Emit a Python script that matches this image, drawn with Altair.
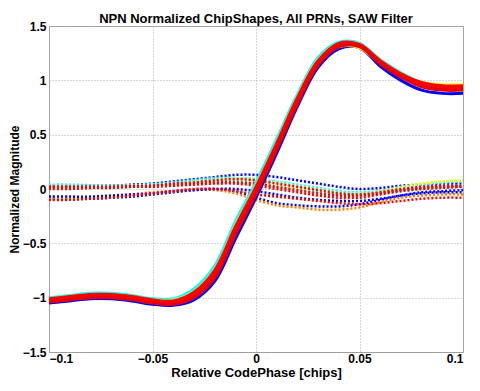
import altair as alt
import pandas as pd

x_vals = [-0.1, -0.09, -0.08, -0.07, -0.06, -0.05, -0.04, -0.03, -0.02, -0.01, 0.0,
          0.01, 0.02, 0.03, 0.04, 0.05, 0.06, 0.07, 0.08, 0.09, 0.1]

# Solid chip-shape curves (one per PRN group), drawn in this order
solid_blue   = [-1.05, -1.03, -1.01, -1.01, -1.03, -1.06, -1.07, -1.02, -0.85, -0.46, -0.08, 0.33, 0.76, 1.12, 1.29, 1.30, 1.13, 1.00, 0.91, 0.88, 0.88]
solid_cyan   = [-1.00, -0.98, -0.96, -0.96, -0.98, -1.01, -1.01, -0.92, -0.71, -0.30, 0.06, 0.46, 0.87, 1.21, 1.35, 1.34, 1.19, 1.07, 0.98, 0.94, 0.93]
solid_green  = [-1.01, -0.99, -0.97, -0.975, -0.99, -1.02, -1.02, -0.94, -0.74, -0.33, 0.03, 0.43, 0.85, 1.19, 1.34, 1.33, 1.18, 1.06, 0.97, 0.94, 0.94]
solid_yellow = [-1.02, -1.00, -0.98, -0.98, -1.00, -1.03, -1.03, -0.96, -0.76, -0.36, 0.01, 0.41, 0.83, 1.17, 1.31, 1.30, 1.16, 1.05, 0.98, 0.96, 0.96]
solid_orange = [-1.03, -1.01, -0.99, -0.99, -1.01, -1.04, -1.05, -0.98, -0.79, -0.39, -0.02, 0.38, 0.80, 1.15, 1.31, 1.31, 1.16, 1.04, 0.96, 0.93, 0.93]
solid_red1   = [-1.01, -0.99, -0.97, -0.97, -0.99, -1.02, -1.03, -0.95, -0.75, -0.35, 0.02, 0.42, 0.84, 1.18, 1.34, 1.33, 1.18, 1.06, 0.98, 0.95, 0.95]
solid_red2   = [-1.03, -1.01, -0.985, -0.99, -1.01, -1.04, -1.05, -0.98, -0.79, -0.39, -0.02, 0.38, 0.80, 1.15, 1.32, 1.32, 1.17, 1.05, 0.96, 0.93, 0.93]
solid_red3   = [-1.02, -1.00, -0.975, -0.98, -1.00, -1.03, -1.04, -0.96, -0.77, -0.37, 0.00, 0.40, 0.82, 1.17, 1.33, 1.32, 1.17, 1.05, 0.97, 0.94, 0.94]
solid_red4   = [-1.04, -1.02, -1.00, -1.00, -1.02, -1.05, -1.06, -1.00, -0.82, -0.42, -0.05, 0.36, 0.78, 1.14, 1.31, 1.31, 1.15, 1.03, 0.94, 0.91, 0.91]

# Dotted (quadrature) curves
dot_blue1   = [0.03, 0.03, 0.03, 0.03, 0.04, 0.05, 0.07, 0.09, 0.11, 0.13, 0.13, 0.11, 0.08, 0.05, 0.02, 0.00, 0.01, 0.03, 0.04, 0.05, 0.05]
dot_cyan    = [0.04, 0.04, 0.035, 0.03, 0.035, 0.04, 0.06, 0.08, 0.10, 0.10, 0.09, 0.07, 0.04, 0.01, -0.02, -0.03, -0.02, 0.01, 0.04, 0.06, 0.07]
dot_green   = [0.03, 0.03, 0.02, 0.02, 0.03, 0.04, 0.05, 0.07, 0.09, 0.10, 0.09, 0.06, 0.03, 0.00, -0.03, -0.04, -0.02, 0.02, 0.05, 0.07, 0.08]
dot_yellow  = [0.01, 0.01, 0.01, 0.02, 0.02, 0.03, 0.04, 0.06, 0.07, 0.08, 0.06, 0.03, 0.00, -0.03, -0.05, -0.06, -0.03, 0.01, 0.05, 0.07, 0.08]
dot_cyan2   = [0.01, 0.01, 0.01, 0.02, 0.03, 0.04, 0.05, 0.06, 0.07, 0.07, 0.05, 0.02, -0.01, -0.03, -0.04, -0.05, -0.04, -0.02, 0.00, 0.02, 0.03]
dot_blue2   = [-0.09, -0.09, -0.09, -0.08, -0.07, -0.05, -0.03, -0.01, 0.00, -0.02, -0.08, -0.13, -0.15, -0.16, -0.16, -0.14, -0.10, -0.06, -0.03, -0.02, -0.01]
dot_orange  = [-0.08, -0.08, -0.08, -0.07, -0.05, -0.03, -0.02, -0.01, -0.01, -0.04, -0.10, -0.15, -0.17, -0.19, -0.19, -0.17, -0.12, -0.08, -0.06, -0.05, -0.05]
dot_blue3   = [-0.07, -0.07, -0.07, -0.06, -0.05, -0.04, -0.02, -0.01, 0.00, 0.00, -0.02, -0.05, -0.08, -0.10, -0.11, -0.11, -0.09, -0.06, -0.04, -0.03, -0.03]
dot_red1    = [0.02, 0.02, 0.02, 0.02, 0.03, 0.03, 0.05, 0.06, 0.08, 0.09, 0.08, 0.05, 0.02, -0.01, -0.04, -0.05, -0.03, 0.00, 0.02, 0.03, 0.03]
dot_red2    = [0.00, 0.00, 0.01, 0.01, 0.02, 0.02, 0.03, 0.04, 0.05, 0.05, 0.03, 0.00, -0.03, -0.06, -0.08, -0.08, -0.05, -0.02, 0.00, 0.01, 0.02]
dot_red3    = [-0.10, -0.10, -0.09, -0.08, -0.06, -0.04, -0.02, 0.00, 0.00, -0.02, -0.05, -0.07, -0.09, -0.11, -0.13, -0.14, -0.13, -0.11, -0.09, -0.08, -0.08]
dot_red4    = [0.02, 0.02, 0.02, 0.02, 0.02, 0.03, 0.04, 0.05, 0.06, 0.06, 0.05, 0.02, -0.01, -0.04, -0.06, -0.06, -0.04, -0.01, 0.01, 0.02, 0.02]

solid_series = [
    ("s1", "#0000ff", solid_blue), ("s2", "#00ffff", solid_cyan),
    ("s3", "#80ff80", solid_green), ("s4", "#ffff00", solid_yellow),
    ("s5", "#ff8000", solid_orange), ("s6", "#ff0000", solid_red1),
    ("s7", "#f00000", solid_red2), ("s8", "#ff0000", solid_red3),
    ("s9", "#e80000", solid_red4),
]
dot_series = [
    ("d01", "#0000ff", dot_blue1), ("d02", "#00ffff", dot_cyan),
    ("d03", "#80ff80", dot_green), ("d04", "#ffff00", dot_yellow),
    ("d05", "#00ffff", dot_cyan2), ("d06", "#0000ff", dot_blue2),
    ("d07", "#ff8000", dot_orange), ("d08", "#0000ff", dot_blue3),
    ("d09", "#ff0000", dot_red1), ("d10", "#ff0000", dot_red2),
    ("d11", "#ff0000", dot_red3), ("d12", "#ff0000", dot_red4),
]


def frame(series):
    rows = []
    for name, _, vals in series:
        for xv, yv in zip(x_vals, vals):
            rows.append({"x": xv, "y": yv, "s": name})
    return pd.DataFrame(rows)


solid_df = frame(solid_series)
dot_df = frame(dot_series)

FONT = "Liberation Sans"

x_enc = alt.X("x:Q", scale=alt.Scale(domain=[-0.1, 0.1], nice=False),
              axis=alt.Axis(values=[-0.1, -0.05, 0, 0.05, 0.1], format="~g",
                            title="Relative CodePhase [chips]", titlePadding=2,
                            labelPadding=1, titleFontSize=13))
y_enc = alt.Y("y:Q", scale=alt.Scale(domain=[-1.5, 1.5], nice=False),
              axis=alt.Axis(values=[-1.5, -1, -0.5, 0, 0.5, 1, 1.5], format="~g",
                            title="Normalized Magnitude", titlePadding=1,
                            labelPadding=3))

dots = alt.Chart(dot_df).mark_line(
    strokeWidth=2.5, strokeDash=[2, 2], interpolate="catmull-rom"
).encode(
    x=x_enc, y=y_enc,
    color=alt.Color("s:N", legend=None,
                    scale=alt.Scale(domain=[s[0] for s in dot_series],
                                    range=[s[1] for s in dot_series])),
    order=alt.Order("x:Q"),
)

solids = alt.Chart(solid_df).mark_line(
    strokeWidth=3, interpolate="catmull-rom"
).encode(
    x=x_enc, y=y_enc,
    color=alt.Color("s:N", legend=None,
                    scale=alt.Scale(domain=[s[0] for s in solid_series],
                                    range=[s[1] for s in solid_series])),
    order=alt.Order("x:Q"),
)

chart = alt.layer(dots, solids).resolve_scale(color="independent").properties(
    width=414, height=326,
    autosize=alt.AutoSizeParams(type="none"),
    padding={"left": 41, "top": 18, "right": 9, "bottom": 31},
    title=alt.Title("NPN Normalized ChipShapes, All PRNs, SAW Filter",
                    font=FONT, fontSize=13, fontWeight="bold", offset=1, dy=7),
).configure_view(
    stroke="#a0a0a0", strokeWidth=1
).configure_axis(
    labelFont=FONT, labelFontSize=12, labelFontWeight="bold", labelColor="black",
    titleFont=FONT, titleFontSize=12, titleFontWeight="bold", titleColor="black",
    domainColor="#a0a0a0", ticks=False,
    gridColor="#b0b0b0", gridDash=[1, 2], gridWidth=1, gridOpacity=1,
)

chart.save("out.html", embed_options={"renderer": "svg", "actions": False})
